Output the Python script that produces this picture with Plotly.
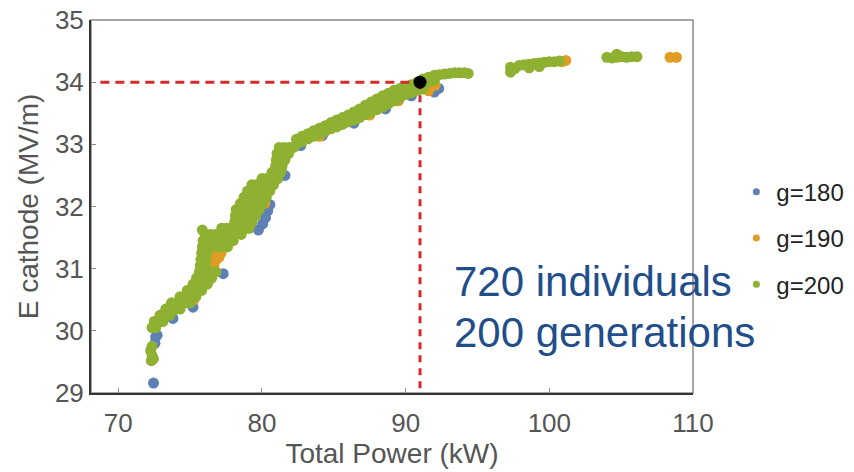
import plotly.graph_objects as go

# ---------------- data ----------------
# g=200 (green) population: Total Power (kW) / E cathode (MV/m)
g200_power = [
    72.30, 72.35, 72.25, 72.35, 72.45,
    72.35, 72.60,
    72.50, 72.85, 73.10,
    72.90, 73.25, 73.60,
    73.30, 73.65, 74.00, 74.30,
    73.70, 74.05, 74.40, 74.75, 75.00,
    74.30, 74.65, 75.00, 75.40,
    74.80, 75.15, 75.50, 75.80,
    75.20, 75.55, 75.90, 76.20,
    75.45, 75.80, 76.15, 76.50,
    75.65, 76.00, 76.35, 76.80,
    75.70, 76.05,
    75.75, 76.10,
    75.80, 76.15,
    75.85, 76.20, 76.55, 76.90, 77.25, 77.60,
    75.90, 76.25, 76.60, 76.95, 77.30, 77.65, 78.00,
    76.05, 76.40, 76.75, 77.10, 77.45, 77.80, 78.15, 78.55,
    75.85, 77.20, 77.55, 77.90, 78.25, 78.60, 78.95, 79.10,
    78.10, 78.45, 78.80, 79.15, 79.30,
    78.15, 78.50, 78.85, 79.20, 79.55,
    78.20, 78.55, 78.90, 79.25, 79.60, 79.80,
    78.50, 78.85, 79.20, 79.55, 79.90, 80.05,
    78.75, 79.10, 79.45, 79.80, 80.15, 80.30,
    79.00, 79.35, 79.70, 80.05, 80.40, 80.55,
    79.30, 79.65, 80.00, 80.35, 80.80,
    80.00, 80.35, 80.70, 81.10,
    80.70, 81.00, 81.30,
    80.95, 81.40,
    81.00, 81.35, 81.60,
    81.05, 81.40, 81.85,
    81.20, 81.55, 81.90, 82.20,
    82.40, 82.40, 82.80, 82.80, 83.20, 83.20, 83.60, 83.60, 84.00, 84.00,
    84.40, 84.40, 84.80, 84.80, 85.20, 85.20, 85.60, 85.60, 86.00, 86.00,
    86.40, 86.40, 86.80, 86.80, 86.80, 87.20, 87.20, 87.20, 87.60, 87.60, 87.60,
    88.00, 88.00, 88.00, 88.40, 88.40, 88.40, 88.80, 88.80, 88.80,
    89.20, 89.20, 89.20, 89.60, 89.60, 89.60, 90.00, 90.00, 90.00,
    90.40, 90.40, 90.40, 90.80, 90.80, 91.20, 91.20, 91.20, 91.60, 91.60,
    92.00, 92.35, 92.70, 93.05, 93.40, 93.75, 94.10, 94.35, 92.00,
    97.30, 97.30, 97.60, 97.90, 98.25, 98.60, 98.95, 99.30, 99.65, 100.00, 100.35, 100.70,
    98.60, 99.30,
    104.00, 104.35, 104.70, 105.05, 105.40, 105.75, 106.10, 104.70,
]
g200_field = [
    29.52, 29.60, 29.68, 29.75, 29.55,
    30.05, 30.05,
    30.15, 30.15, 30.15,
    30.25, 30.25, 30.25,
    30.35, 30.35, 30.35, 30.35,
    30.45, 30.45, 30.45, 30.45, 30.45,
    30.55, 30.55, 30.55, 30.55,
    30.65, 30.65, 30.65, 30.65,
    30.75, 30.75, 30.75, 30.75,
    30.85, 30.85, 30.85, 30.85,
    30.95, 30.95, 30.95, 30.95,
    31.05, 31.05,
    31.15, 31.15,
    31.25, 31.25,
    31.35, 31.35, 31.35, 31.35, 31.35, 31.35,
    31.45, 31.45, 31.45, 31.45, 31.45, 31.45, 31.45,
    31.55, 31.55, 31.55, 31.55, 31.55, 31.55, 31.55, 31.55,
    31.62, 31.65, 31.65, 31.65, 31.65, 31.65, 31.65, 31.65,
    31.75, 31.75, 31.75, 31.75, 31.75,
    31.85, 31.85, 31.85, 31.85, 31.85,
    31.95, 31.95, 31.95, 31.95, 31.95, 31.95,
    32.05, 32.05, 32.05, 32.05, 32.05, 32.05,
    32.15, 32.15, 32.15, 32.15, 32.15, 32.15,
    32.25, 32.25, 32.25, 32.25, 32.25, 32.25,
    32.35, 32.35, 32.35, 32.35, 32.35,
    32.45, 32.45, 32.45, 32.45,
    32.55, 32.55, 32.55,
    32.65, 32.65,
    32.75, 32.75, 32.75,
    32.85, 32.85, 32.85,
    32.95, 32.95, 32.95, 32.95,
    33.08, 33.00, 33.13, 33.04, 33.17, 33.09, 33.22, 33.13, 33.26, 33.17,
    33.30, 33.21, 33.35, 33.25, 33.39, 33.28, 33.43, 33.32, 33.47, 33.36,
    33.52, 33.39, 33.57, 33.50, 33.43, 33.63, 33.55, 33.48, 33.68, 33.60, 33.52,
    33.73, 33.64, 33.56, 33.78, 33.69, 33.60, 33.82, 33.73, 33.65,
    33.87, 33.78, 33.70, 33.90, 33.82, 33.75, 33.93, 33.86, 33.80,
    33.96, 33.90, 33.83, 34.00, 33.87, 34.05, 33.97, 33.89, 34.08, 34.00,
    34.11, 34.12, 34.13, 34.14, 34.15, 34.15, 34.15, 34.14, 34.03,
    34.16, 34.24, 34.22, 34.27, 34.28, 34.29, 34.30, 34.31, 34.32, 34.33, 34.33, 34.34,
    34.23, 34.25,
    34.40, 34.39, 34.40, 34.41, 34.40, 34.41, 34.41, 34.45,
]

# g=190 (orange) population
g190_power = [75.25, 76.65, 76.75, 77.00, 77.15, 76.60, 80.20, 81.35,
              84.00, 87.50, 89.50, 91.60, 92.05, 100.90, 101.15, 108.40, 108.85]
g190_field = [30.50, 31.05, 31.12, 31.18, 31.25, 31.20, 32.05, 32.60,
              33.13, 33.47, 33.70, 33.86, 33.95, 34.33, 34.35, 34.40, 34.40]

# g=180 (blue) population
g180_power = [72.45, 72.55, 72.60, 72.70, 73.80, 75.20, 77.30,
              79.75, 80.05, 80.25, 80.40, 80.55, 81.60, 82.70,
              84.20, 86.40, 88.60, 90.40, 92.00, 92.30]
g180_field = [29.16, 29.80, 29.90, 29.93, 30.20, 30.38, 30.92,
              31.62, 31.72, 31.82, 31.93, 32.03, 32.50, 32.98,
              33.14, 33.34, 33.57, 33.78, 33.84, 33.90]

# chosen design point and guide lines
target_power = [91.0]
target_field = [34.0]
hguide_power = [68.75, 91.0]
hguide_field = [34.0, 34.0]
vguide_power = [91.0, 91.0]
vguide_field = [34.0, 29.0]

x_ticks = [70, 80, 90, 100, 110]
y_ticks = [29, 30, 31, 32, 33, 34, 35]

series_names = ["g=180", "g=190", "g=200"]
colors = ["#5E81B5", "#E19C24", "#8FB131"]

FONT = "Arial, Liberation Sans, sans-serif"

fig = go.Figure()
for i, (xs, ys) in enumerate([(g180_power, g180_field), (g190_power, g190_field), (g200_power, g200_field)]):
    fig.add_trace(go.Scatter(
        x=xs, y=ys, mode="markers", name=series_names[i], legendgroup=series_names[i],
        showlegend=False, marker=dict(color=colors[i], size=11, line=dict(width=0)),
    ))
# legend entries (small dots, as in the reference legend)
for i in range(3):
    fig.add_trace(go.Scatter(
        x=[None], y=[None], mode="markers", name=series_names[i], legendgroup=series_names[i],
        marker=dict(color=colors[i], size=7),
    ))

fig.add_trace(go.Scatter(x=hguide_power, y=hguide_field, mode="lines", showlegend=False,
                         line=dict(color="#D42A2A", width=3, dash="9px,6px")))
fig.add_trace(go.Scatter(x=vguide_power, y=vguide_field, mode="lines", showlegend=False,
                         line=dict(color="#D42A2A", width=3, dash="7px,6px")))
fig.add_trace(go.Scatter(x=target_power, y=target_field, mode="markers", showlegend=False,
                         marker=dict(color="black", size=13)))

fig.add_annotation(text="720 individuals", xref="paper", yref="paper", x=0.600, y=0.298,
                   xanchor="left", yanchor="middle", showarrow=False,
                   font=dict(family=FONT, size=42, color="#1F4E8A"))
fig.add_annotation(text="200 generations", xref="paper", yref="paper", x=0.600, y=0.163,
                   xanchor="left", yanchor="middle", showarrow=False,
                   font=dict(family=FONT, size=42, color="#1F4E8A"))

fig.add_shape(type="rect", xref="paper", yref="paper", x0=0, y0=0, x1=1, y1=1,
              line=dict(color="#8A8A8A", width=1.5), layer="below")

fig.update_layout(
    width=854, height=472,
    margin=dict(l=91, r=161, t=20, b=79, autoexpand=False),
    paper_bgcolor="white", plot_bgcolor="white",
    font=dict(family=FONT, color="#555555"),
    legend=dict(x=1.072, y=0.415, xanchor="left", yanchor="middle",
                font=dict(size=24, color="#222222"), tracegroupgap=12,
                bgcolor="rgba(0,0,0,0)"),
    xaxis=dict(range=[68.1, 110], tickvals=x_ticks, showgrid=False, zeroline=False,
               showline=True, linecolor="#333333", linewidth=2,
               ticks="inside", ticklen=5, tickcolor="#888888", ticklabelstandoff=6,
               tickfont=dict(size=26, color="#555555"),
               title=dict(text="Total Power (kW)", font=dict(size=28, color="#555555"), standoff=4)),
    yaxis=dict(range=[29, 35], tickvals=y_ticks, showgrid=False, zeroline=False,
               showline=True, linecolor="#333333", linewidth=2,
               ticks="inside", ticklen=5, tickcolor="#888888",
               tickfont=dict(size=26, color="#555555"),
               title=dict(text="E cathode (MV/m)", font=dict(size=28, color="#555555"), standoff=8)),
)

fig.write_html("out.html")
